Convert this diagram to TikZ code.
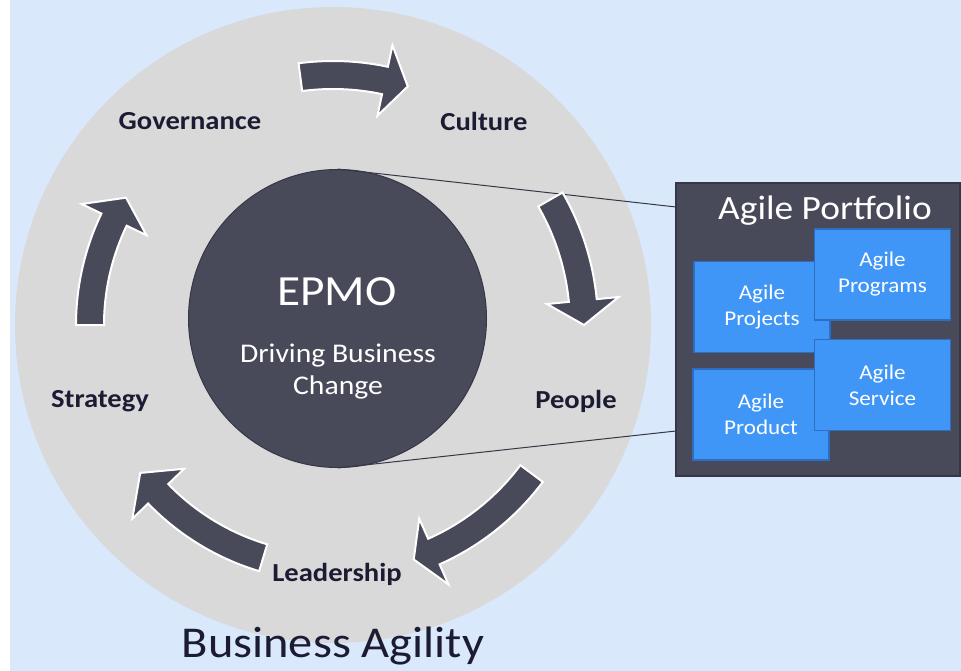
\documentclass[tikz,border=0pt]{standalone}
\usepackage{fontspec}
\setmainfont[FakeStretch=1.1]{Carlito}
\usetikzlibrary{calc}

\definecolor{bgblue}{HTML}{DAE8FC}
\definecolor{ringgray}{HTML}{D9D9D9}
\definecolor{slate}{HTML}{484A59}
\definecolor{slateedge}{HTML}{353746}
\definecolor{agileblue}{HTML}{4096F7}
\definecolor{agileedge}{HTML}{2D6EC2}
\definecolor{ink}{HTML}{1B1B33}

\newcommand{\fsz}[2]{\fontsize{#1}{#2}\selectfont}
% tail angle, head base angle, tip angle, radius
\newcommand{\ringarrow}[4]{%
  \draw[ring arrow] ($(ctr)+(#1:{#4+14})$) arc[start angle=#1, end angle=#2, radius={#4+14}]
    -- ($(ctr)+(#2:{#4+36})$) -- ($(ctr)+(#3:#4)$) -- ($(ctr)+(#2:{#4-36})$)
    -- ($(ctr)+(#2:{#4-14})$) arc[start angle=#2, end angle=#1, radius={#4-14}] -- cycle;}

\tikzset{
  stage/.style={text=ink, font=\fsz{26}{30}\bfseries},
  ring arrow/.style={fill=slate, draw=white, line width=2pt, line join=miter},
  agile/.style={fill=agileblue, draw=agileedge, line width=1.5pt, text=white,
    minimum width=136, minimum height=91, align=center, font=\fsz{21}{26}, inner sep=0pt},
}

\begin{document}
\begin{tikzpicture}[x=1pt,y=1pt]
    \useasboundingbox (0,0) rectangle (961,-671);
    \fill[bgblue] (10,0) rectangle (961,-671);
    \node[circle, fill=ringgray, minimum size=636, inner sep=0pt] (ring) at (333,-325) {};
    \coordinate (ctr) at (333,-325);

    % links to the portfolio
    \node[fill=slate, draw=slateedge, line width=1.5pt, minimum width=284, minimum height=293, inner sep=0pt] (pf) at (818,-329.5) {};
    \coordinate (pftop) at (676,-207);
    \coordinate (pfbot) at (676,-431);
    \node[circle, fill=slate, draw=slateedge, line width=1pt, minimum size=298, inner sep=0pt] (epmo) at (337.5,-318.5) {};
    \path[draw=slateedge, line width=1pt] (epmo.north) -- (pftop);
    \path[draw=slateedge, line width=1pt] (epmo.south) -- (pfbot);

    \node[text=white, font=\fsz{43}{48}] (epmot) at (337,-292) {EPMO};
    \node[text=white, font=\fsz{27}{32}, align=center] (drive) at (338,-372) {Driving Business\\Change};

    \node[stage] (gov) at (190,-121) {Governance};
    \node[stage] (cul) at (484,-121) {Culture};
    \node[stage] (peo) at (576,-401) {People};
    \node[stage] (lead) at (337,-574) {Leadership};
    \node[stage] (strat) at (100,-401) {Strategy};

    \ringarrow{97.5}{78}{72.6}{250}
    \ringarrow{30}{5.6}{0}{251}
    \ringarrow{-36.8}{-66}{-71}{248}
    \ringarrow{-106.7}{-136}{-142.5}{243}
    \ringarrow{-180}{-205.7}{-211.6}{243}

    \node[text=ink, font=\fsz{44}{48}] (agility) at (333,-646) {Business Agility};

    \node[text=white, font=\fsz{34}{38}] (pftitle) at (825,-211) {Agile Portfolio};
    \node[agile] (proj) at (762,-307) {Agile\\Projects};
    \node[agile] (prog) at (882.5,-274.5) {Agile\\Programs};
    \node[agile] (prod) at (761,-414.5) {Agile\\Product};
    \node[agile] (serv) at (882.5,-385) {Agile\\Service};
\end{tikzpicture}
\end{document}
